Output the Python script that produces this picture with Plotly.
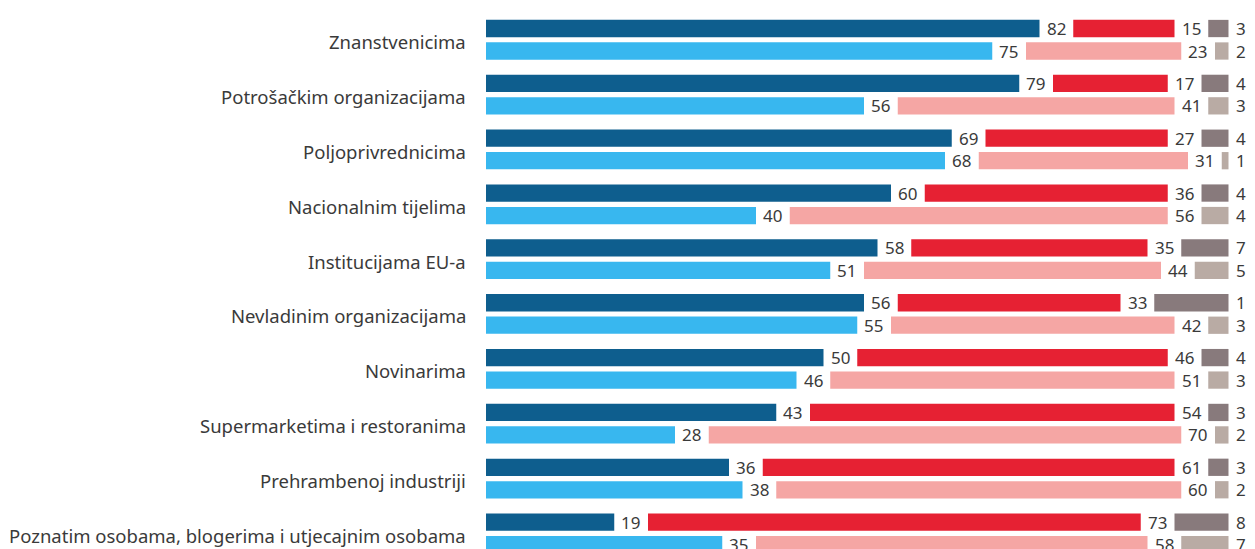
import plotly.graph_objects as go

categories = [
    "Znanstvenicima",
    "Potrošačkim organizacijama",
    "Poljoprivrednicima",
    "Nacionalnim tijelima",
    "Institucijama EU-a",
    "Nevladinim organizacijama",
    "Novinarima",
    "Supermarketima i restoranima",
    "Prehrambenoj industriji",
    "Poznatim osobama, blogerima i utjecajnim osobama",
]

# Row A (dark colours)
a_trust = [82, 79, 69, 60, 58, 56, 50, 43, 36, 19]
a_distrust = [15, 17, 27, 36, 35, 33, 46, 54, 61, 73]
a_dk = [3, 4, 4, 4, 7, 11, 4, 3, 3, 8]

# Row B (light colours)
b_trust = [75, 56, 68, 40, 51, 55, 46, 28, 38, 35]
b_distrust = [23, 41, 31, 56, 44, 42, 51, 70, 60, 58]
b_dk = [2, 3, 1, 4, 5, 3, 3, 2, 2, 7]

GAP = 5  # gap (in value units) reserved for labels between segments
ROW_OFFSET = 0.41
BAR_W = 0.315

colors_a = ["#0E5E8E", "#E62133", "#887A7C"]
colors_b = ["#38B7EF", "#F5A6A4", "#B9ABA4"]

font_family = "Noto Sans"
text_color = "#3a3a3a"

fig = go.Figure()
annotations = []

n = len(categories)
for rows, colors, off in [((a_trust, a_distrust, a_dk), colors_a, 0.0),
                          ((b_trust, b_distrust, b_dk), colors_b, ROW_OFFSET)]:
    ys = [i + off for i in range(n)]
    bases = [0] * n
    for seg, col in zip(rows, colors):
        fig.add_trace(go.Bar(
            y=ys, x=seg, base=bases, orientation="h",
            marker=dict(color=col, line=dict(width=0)),
            width=BAR_W, showlegend=False, hoverinfo="skip",
        ))
        for y, b, v in zip(ys, bases, seg):
            annotations.append(dict(
                x=b + v, y=y, xref="x", yref="y", text=str(v),
                showarrow=False, xanchor="left", yanchor="middle", xshift=5,
                font=dict(family=font_family, size=17, color=text_color),
            ))
        bases = [b + v + GAP for b, v in zip(bases, seg)]

for i, c in enumerate(categories):
    annotations.append(dict(
        x=0, y=i + ROW_OFFSET / 2, xref="x", yref="y", text=c,
        showarrow=False, xanchor="right", yanchor="middle", xshift=-18, yshift=-2,
        font=dict(family=font_family, size=18.5, color=text_color),
    ))

fig.update_layout(
    width=1247, height=541,
    margin=dict(l=478, r=0, t=0, b=0),
    paper_bgcolor="white", plot_bgcolor="white",
    barmode="overlay",
    xaxis=dict(range=[0, 769 / 6.75], visible=False, fixedrange=True),
    yaxis=dict(range=[9.49, -0.374], visible=False, fixedrange=True),
    annotations=annotations,
    font=dict(family=font_family, color=text_color),
)

fig.write_html("out.html")
